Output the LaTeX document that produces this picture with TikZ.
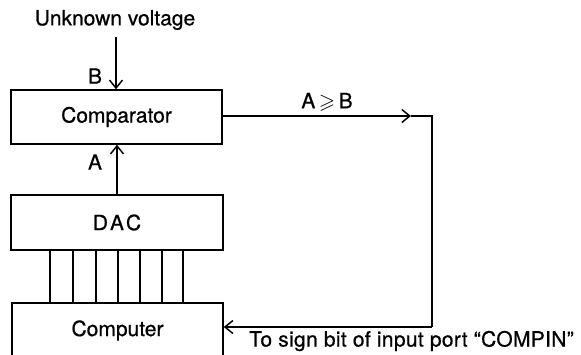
\documentclass[tikz,border=0pt]{standalone}
\usepackage{amssymb}
\usepackage{fontspec}
\setmainfont{TeX Gyre Heros}[FakeBold=0.6]
\usetikzlibrary{arrows.meta}
\begin{document}
\begin{tikzpicture}[x=1pt,y=-1pt,
  every node/.style={font=\fontsize{21}{25}\selectfont, inner sep=0pt},
  blk/.style={draw, line width=1.5pt},
  wire/.style={line width=1.5pt},
  arr/.style={wire, -{Straight Barb[length=8pt,width=13pt,line width=1.5pt]}}]
\useasboundingbox (0,0) rectangle (581,354);
\node (uv) at (115,20) {Unknown voltage};
\node[blk, minimum width=211pt, minimum height=54pt] (comp) at (116.5,117) {Comparator};
\node[blk, minimum width=212pt, minimum height=55pt] (dac) at (117,222.5) {D\kern2pt A\kern2pt C};
\node[blk, minimum width=211pt, minimum height=55pt] (cpu) at (117.5,330.5) {Computer};
\node (lb) at (95,76) {B};
\node (la) at (95,162) {A};
\node (lab) at (327,102) {A\,$\geqslant$\,B};
\node[anchor=west] (lsign) at (249,341) {\addfontfeature{LetterSpace=1.5}To sign bit of input port ``COMPIN''};
\coordinate (uvtop) at (116,37);
\coordinate (ahead) at (411,116);
\coordinate (c1) at (432,116);
\coordinate (c2) at (432,327);
\draw[arr] (uvtop) -- (uvtop |- comp.north);
\draw[arr] (dac.north -| 117,0) -- (comp.south -| 117,0);
\foreach \x in {50,73,96,118,140,162,183}
  \draw[wire] (dac.south -| \x,0) -- (cpu.north -| \x,0);
\draw[arr] (comp.east |- ahead) -- (ahead);
\draw[wire] (ahead) -- (c1) -- (c2);
\draw[arr] (c2) -- (c2 -| cpu.east);
\end{tikzpicture}
\end{document}
